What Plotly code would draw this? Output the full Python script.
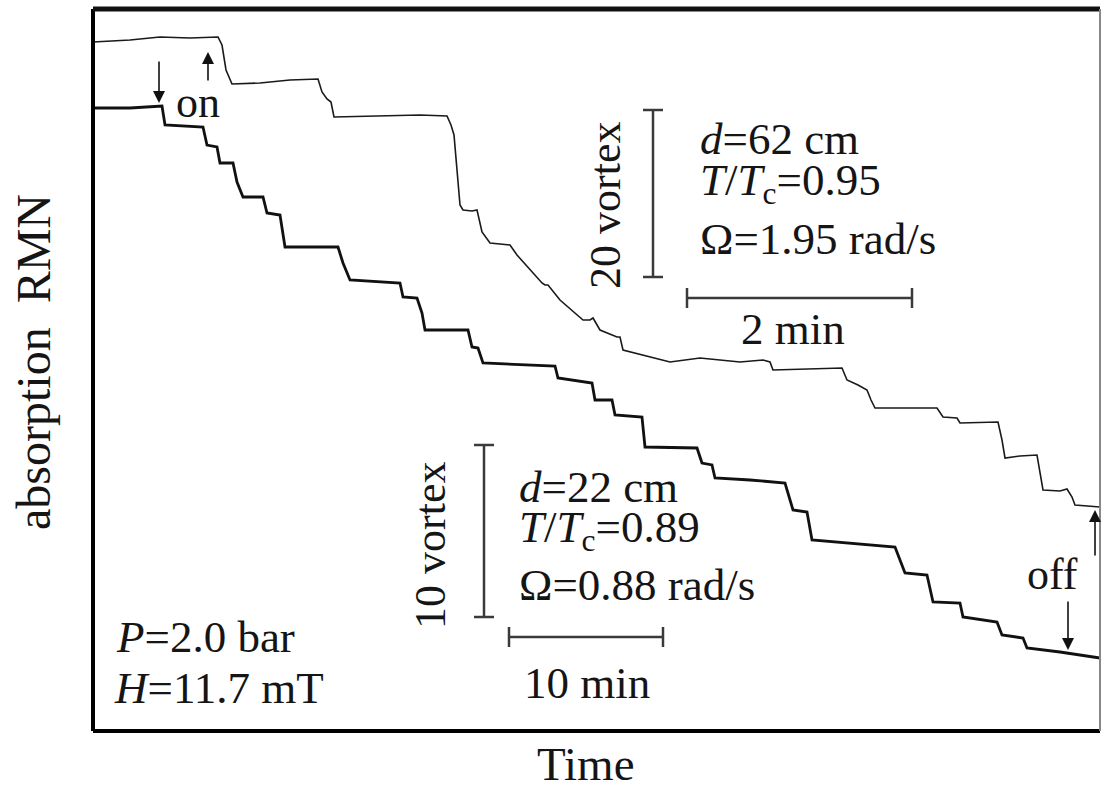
import plotly.graph_objects as go

# ---- data (arbitrary units: time, signal) ----
# upper trace (d=62 cm), thin line
t_upper = [0, 37, 67, 97, 125, 129, 133, 139, 167, 197, 225, 229, 234, 238, 241, 287, 327, 354,
           358, 361, 364, 367, 370, 379, 384, 387, 389, 397, 415, 417, 424, 449, 452, 455, 467,
           490, 497, 500, 507, 524, 527, 530, 577, 607, 647, 670, 677, 680, 749, 754, 765, 774,
           778, 782, 844, 850, 864, 867, 905, 909, 912, 927, 944, 947, 950, 967, 974, 979, 982, 1007]
s_upper = [689, 691, 694, 693, 694, 686, 661, 647, 648, 651, 652, 639, 632, 629, 614, 615, 616, 615,
           606, 596, 561, 526, 521, 520, 521, 509, 499, 488, 486, 486, 476, 448, 446, 446, 431,
           411, 411, 413, 401, 394, 394, 381, 369, 373, 369, 371, 369, 361, 363, 351, 346, 341,
           331, 323, 323, 314, 313, 308, 309, 291, 273, 275, 276, 256, 241, 240, 242, 234, 226, 224]

# lower trace (d=22 cm), thick line
t_lower = [0, 37, 69, 72, 110, 114, 124, 127, 140, 144, 150, 170, 174, 187, 192, 245, 250, 257,
           307, 310, 324, 329, 332, 375, 379, 385, 390, 462, 465, 499, 502, 519, 522, 549, 552,
           604, 609, 619, 622, 657, 692, 700, 714, 719, 802, 812, 834, 840, 867, 870, 904, 909,
           930, 934, 967, 1007]
s_lower = [623, 623, 625, 606, 604, 586, 584, 568, 568, 549, 534, 534, 518, 516, 484, 484, 468, 451,
           448, 434, 433, 418, 401, 401, 384, 383, 368, 365, 353, 348, 331, 331, 316, 314, 284,
           283, 268, 266, 253, 251, 248, 221, 219, 191, 184, 158, 156, 129, 128, 114, 109, 96,
           93, 83, 79, 73]

# scale bars (same units)
bar_up_v = dict(x=560, y0=454, y1=621)     # 20 vortex
bar_up_h = dict(y=433, x0=594, x1=819)     # 2 min
bar_lo_v = dict(x=391, y0=114, y1=286)     # 10 vortex
bar_lo_h = dict(y=94, x0=416, x1=570)      # 10 min

X_MAX, Y_MAX = 1007, 722

fig = go.Figure()
fig.add_trace(go.Scatter(x=t_upper, y=s_upper, mode="lines",
                         line=dict(color="#1a1a1a", width=1.6), hoverinfo="skip"))
fig.add_trace(go.Scatter(x=t_lower, y=s_lower, mode="lines",
                         line=dict(color="#111111", width=2.8), hoverinfo="skip"))

BAR = dict(color="#3a3a3a", width=2.5)
CAP = 10
shapes = []
for b in (bar_up_v, bar_lo_v):
    shapes.append(dict(type="line", xref="x", yref="y", x0=b["x"], x1=b["x"], y0=b["y0"], y1=b["y1"], line=BAR))
    for yy in (b["y0"], b["y1"]):
        shapes.append(dict(type="line", xref="x", yref="y", x0=b["x"] - CAP, x1=b["x"] + CAP, y0=yy, y1=yy, line=BAR))
for b in (bar_up_h, bar_lo_h):
    shapes.append(dict(type="line", xref="x", yref="y", x0=b["x0"], x1=b["x1"], y0=b["y"], y1=b["y"], line=BAR))
    for xx in (b["x0"], b["x1"]):
        shapes.append(dict(type="line", xref="x", yref="y", x0=xx, x1=xx, y0=b["y"] - CAP, y1=b["y"] + CAP, line=BAR))

# frame
shapes += [
    dict(type="line", xref="paper", yref="paper", x0=0, x1=0, y0=0, y1=1, line=dict(color="#000", width=4)),
    dict(type="line", xref="paper", yref="paper", x0=0, x1=1, y0=1, y1=1, line=dict(color="#111", width=5)),
    dict(type="line", xref="paper", yref="paper", x0=0, x1=1, y0=0, y1=0, line=dict(color="#000", width=4)),
    dict(type="line", xref="paper", yref="paper", x0=1, x1=1, y0=0, y1=1, line=dict(color="#888", width=2)),
]

FONT = "Liberation Serif, Times New Roman, serif"
TXT = "#151515"


def pp(xp, yp):
    """pixel position in the 1101x787 picture -> paper fractions of the plotting frame"""
    return (xp - 93) / 1007, (731 - yp) / 722


annotations = []


def text(s, xp, yp, size=45, xanchor="left", angle=0):
    x, y = pp(xp, yp)
    annotations.append(dict(x=x, y=y, xref="paper", yref="paper", text=s, showarrow=False,
                            xanchor=xanchor, yanchor="middle", textangle=angle,
                            font=dict(family=FONT, size=size, color=TXT)))


def arrow(xp, tip_y, tail_y):
    x, y = pp(xp, tip_y)
    annotations.append(dict(x=x, y=y, xref="paper", yref="paper", text="", showarrow=True,
                            ax=0, ay=tail_y - tip_y, arrowhead=2, arrowsize=1.5,
                            arrowwidth=1.6, arrowcolor="#111", standoff=0))


# upper block
text("<i>d</i>=62 cm", 698, 139)
text("<i>T</i>/<i>T</i><sub>c</sub>=0.95", 698, 183)
text("Ω=1.95 rad/s", 698, 239)
text("20 vortex", 606, 206, size=44, xanchor="center", angle=-90)
text("2 min", 793, 329, xanchor="center")
# lower block
text("<i>d</i>=22 cm", 517, 487)
text("<i>T</i>/<i>T</i><sub>c</sub>=0.89", 517, 530)
text("Ω=0.88 rad/s", 517, 585)
text("10 vortex", 430, 546, size=44, xanchor="center", angle=-90)
text("10 min", 587, 683, xanchor="center")
# conditions
text("<i>P</i>=2.0 bar", 114, 637)
text("<i>H</i>=11.7 mT", 112, 688)
# on / off
text("on", 198, 102, size=44, xanchor="center")
text("off", 1052, 574, size=44, xanchor="center")
arrow(159, 103, 60)
arrow(208, 52, 82)
arrow(1095, 510, 557)
arrow(1068, 650, 600)

# axis titles (outside the plotting frame)
text("Time", 586, 764, size=47, xanchor="center")
text("absorption  RMN", 33, 362, size=48, xanchor="center", angle=-90)

fig.update_layout(
    width=1101, height=787,
    margin=dict(l=93, r=1, t=9, b=56),
    paper_bgcolor="white", plot_bgcolor="white",
    showlegend=False,
    xaxis=dict(range=[0, X_MAX], visible=False, fixedrange=True),
    yaxis=dict(range=[0, Y_MAX], visible=False, fixedrange=True),
    shapes=shapes,
    annotations=annotations,
)

# remove the page's default 8px body margin so the figure sits at the window's corner
fig.write_html("out.html", config={"displayModeBar": False},
               post_script="document.body.style.margin='0px';document.body.style.overflow='hidden';")
